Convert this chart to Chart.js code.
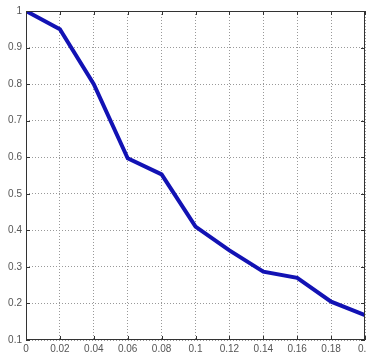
<!DOCTYPE html>
<html>
<head>
<meta charset="utf-8">
<script src="https://cdn.jsdelivr.net/npm/chart.js@4"></script>
<style>
  html, body { margin: 0; padding: 0; background: #fff; }
  #wrap { width: 366px; height: 354px; }
</style>
</head>
<body>
<div id="wrap"><canvas id="graph"></canvas></div>
<script>
// values
const xValues = [0, 0.02, 0.04, 0.06, 0.08, 0.1, 0.12, 0.14, 0.16, 0.18, 0.2];
const yValues = [1, 0.95, 0.8, 0.597, 0.553, 0.41, 0.345, 0.287, 0.27, 0.205, 0.168];

const fmt = v => Number(v.toFixed(2)).toString();

// box round the plot with inward tick marks, like the original
const boxPlugin = {
    id: 'box',
    afterDraw(chart) {
        const ctx = chart.ctx;
        const a = chart.chartArea;
        const xs = chart.scales.x, ys = chart.scales.y;
        ctx.save();
        ctx.strokeStyle = '#333';
        ctx.lineWidth = 1;
        ctx.strokeRect(a.left + 0.5, a.top + 0.5, a.right - a.left - 1, a.bottom - a.top - 1);
        ctx.beginPath();
        xs.ticks.forEach(t => {
            const px = Math.round(xs.getPixelForValue(t.value)) + 0.5;
            ctx.moveTo(px, a.bottom); ctx.lineTo(px, a.bottom - 4);
            ctx.moveTo(px, a.top); ctx.lineTo(px, a.top + 4);
        });
        ys.ticks.forEach(t => {
            const py = Math.round(ys.getPixelForValue(t.value)) + 0.5;
            ctx.moveTo(a.left, py); ctx.lineTo(a.left + 4, py);
            ctx.moveTo(a.right, py); ctx.lineTo(a.right - 4, py);
        });
        ctx.stroke();
        ctx.restore();
    }
};

const ctx = document.getElementById('graph').getContext('2d');
new Chart(ctx, {
    type: 'line',
    data: {
        datasets: [{
            data: xValues.map((x, i) => ({ x: x, y: yValues[i] })),
            borderColor: '#1212b4',
            borderWidth: 4,
            pointRadius: 0,
            tension: 0,
            fill: false
        }]
    },
    options: {
        responsive: true,
        maintainAspectRatio: false,
        animation: false,
        layout: { padding: { top: 11, right: 1, left: 0, bottom: 0 } },
        plugins: { legend: { display: false }, tooltip: { enabled: false } },
        scales: {
            x: {
                type: 'linear',
                min: 0, max: 0.2,
                border: { display: false, dash: [1, 2] },
                grid: { color: '#999', tickLength: 0, drawTicks: false },
                ticks: {
                    stepSize: 0.02,
                    autoSkip: false,
                    maxRotation: 0,
                    padding: 3,
                    color: '#555',
                    font: { family: 'Liberation Sans', size: 10 },
                    callback: v => fmt(v)
                },
                afterFit: s => { s.height = 14; s.paddingLeft = 0; s.paddingRight = 0; }
            },
            y: {
                min: 0.1, max: 1,
                border: { display: false, dash: [1, 2] },
                grid: { color: '#999', tickLength: 0, drawTicks: false },
                ticks: {
                    stepSize: 0.1,
                    padding: 4,
                    color: '#555',
                    font: { family: 'Liberation Sans', size: 10 },
                    callback: v => fmt(v)
                },
                afterFit: s => { s.width = 26; s.paddingTop = 0; s.paddingBottom = 0; }
            }
        }
    },
    plugins: [boxPlugin]
});
</script>
</body>
</html>
